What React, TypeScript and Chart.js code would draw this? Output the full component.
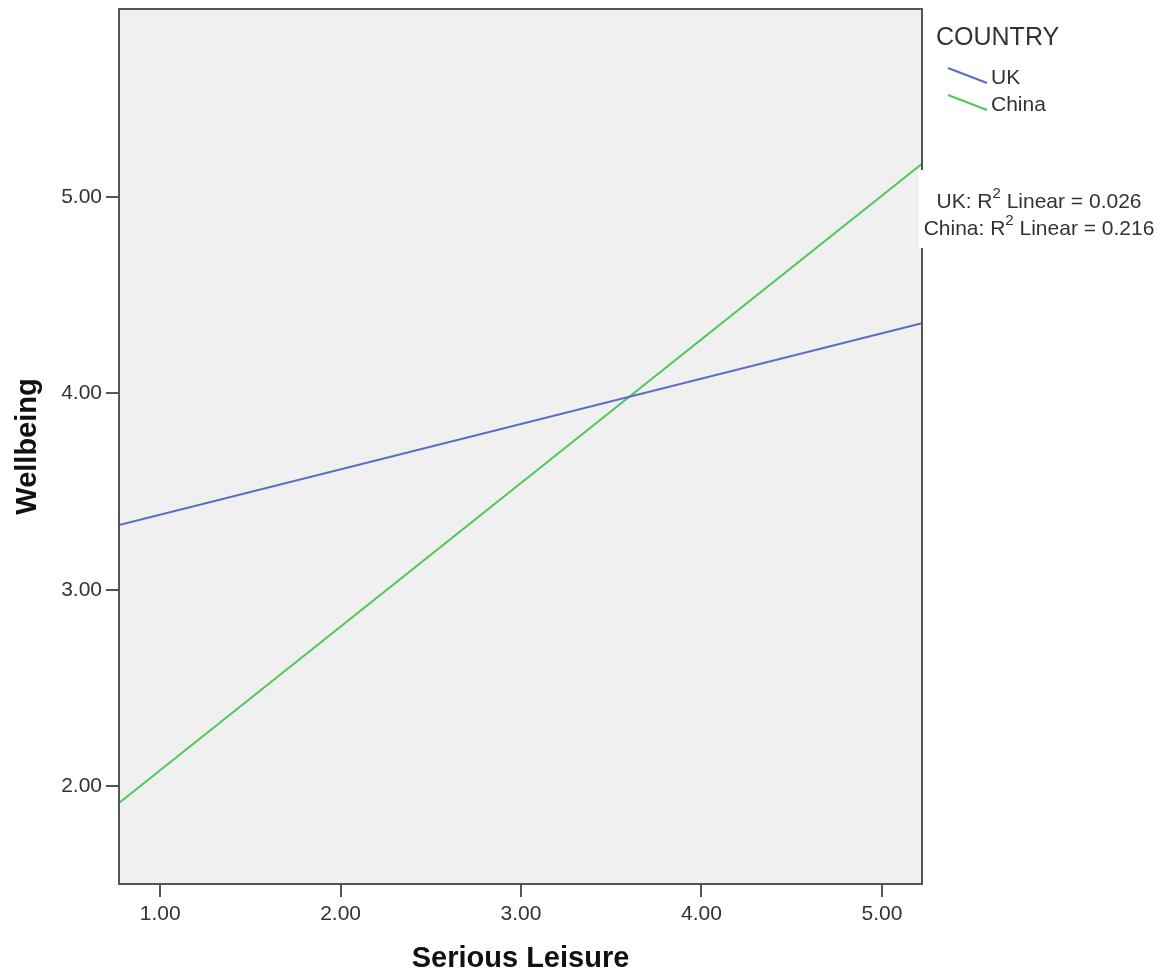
import React, { useEffect, useRef } from "react";
import { Chart, registerables } from "chart.js";

Chart.register(...registerables);

// ---- data ----
const seriesNames = ["UK", "China"];
const seriesColors = ["#5a6cc4", "#4cc65a"];
const xEnds = [0.772, 5.222];
const ukValues = [3.329, 4.356];
const chinaValues = [1.914, 5.168];
const rSquared = ["0.026", "0.216"];
const xTicks = [1, 2, 3, 4, 5];
const yTicks = [2, 3, 4, 5];
const xRange = [0.772, 5.222];
const yRange = [1.502, 5.956];
const legendTitle = "COUNTRY";
const xTitle = "Serious Leisure";
const yTitle = "Wellbeing";

const FONT = "'Liberation Sans', Arial, sans-serif";
const TEXT = "#333333";
const FRAME = "#555555";

const plotPlugin = {
  id: "plotDecor",
  beforeDatasetsDraw(chart: any) {
    const { ctx, chartArea: a } = chart;
    ctx.save();
    ctx.fillStyle = "#f0f0f0";
    ctx.fillRect(a.left, a.top, a.right - a.left, a.bottom - a.top);
    ctx.restore();
  },
  afterDatasetsDraw(chart: any) {
    const { ctx, chartArea: a } = chart;
    ctx.save();
    ctx.strokeStyle = FRAME;
    ctx.lineWidth = 2;
    ctx.strokeRect(a.left, a.top, a.right - a.left, a.bottom - a.top);
    ctx.restore();
  },
  afterDraw(chart: any) {
    const { ctx } = chart;
    ctx.save();
    // legend
    ctx.fillStyle = TEXT;
    ctx.textBaseline = "middle";
    ctx.textAlign = "left";
    ctx.font = `25px ${FONT}`;
    ctx.fillText(legendTitle, 936, 38);
    ctx.font = `21px ${FONT}`;
    seriesNames.forEach((name, i) => {
      const y0 = 68 + i * 27;
      ctx.strokeStyle = seriesColors[i];
      ctx.lineWidth = 2;
      ctx.beginPath();
      ctx.moveTo(948, y0);
      ctx.lineTo(987, y0 + 15);
      ctx.stroke();
      ctx.fillStyle = TEXT;
      ctx.fillText(name, 991, y0 + 10);
    });

    // R² annotation
    ctx.fillStyle = "#ffffff";
    ctx.fillRect(919, 170, 246, 78);
    const cx = 1039;
    seriesNames.forEach((name, i) => {
      const y = 202 + i * 27;
      const p1 = `${name}: R`;
      const sup = "2";
      const p2 = ` Linear = ${rSquared[i]}`;
      ctx.font = `21px ${FONT}`;
      const w1 = ctx.measureText(p1).width;
      const w3 = ctx.measureText(p2).width;
      ctx.font = `15px ${FONT}`;
      const w2 = ctx.measureText(sup).width;
      const total = w1 + w2 + w3;
      let x = cx - total / 2;
      ctx.fillStyle = TEXT;
      ctx.font = `21px ${FONT}`;
      ctx.fillText(p1, x, y);
      x += w1;
      ctx.font = `15px ${FONT}`;
      ctx.fillText(sup, x, y - 8);
      x += w2;
      ctx.font = `21px ${FONT}`;
      ctx.fillText(p2, x, y);
    });
    ctx.restore();
  },
};

export default function App() {
  const ref = useRef<HTMLCanvasElement | null>(null);

  useEffect(() => {
    document.body.style.margin = "0";
    if (!ref.current) return;
    const seriesValues = [ukValues, chinaValues];
    const chart = new Chart(ref.current, {
      type: "scatter",
      data: {
        datasets: seriesNames.map((name, i) => ({
          label: name,
          data: xEnds.map((x, j) => ({ x, y: seriesValues[i][j] })),
          showLine: true,
          borderColor: seriesColors[i],
          backgroundColor: seriesColors[i],
          borderWidth: 2,
          pointRadius: 0,
          pointHoverRadius: 0,
        })),
      },
      options: {
        responsive: false,
        animation: false,
        events: [],
        layout: { padding: { left: 0, top: 9, right: 245, bottom: 0 } },
        plugins: {
          legend: { display: false },
          tooltip: { enabled: false },
        },
        scales: {
          x: {
            type: "linear",
            min: xRange[0],
            max: xRange[1],
            afterBuildTicks: (s: any) => {
              s.ticks = xTicks.map((v) => ({ value: v }));
            },
            afterFit: (s: any) => {
              s.height = 95;
              s.paddingLeft = 0;
              s.paddingRight = 0;
            },
            grid: {
              drawOnChartArea: false,
              drawTicks: true,
              tickLength: 13,
              color: FRAME,
              lineWidth: 2,
            },
            border: { display: false },
            ticks: {
              callback: (v: any) => Number(v).toFixed(2),
              color: TEXT,
              font: { family: FONT, size: 21 },
              padding: 5,
              maxRotation: 0,
            },
            title: {
              display: true,
              text: xTitle,
              color: "#111111",
              font: { family: FONT, size: 29, weight: "bold" },
              padding: { top: 0, bottom: 3 },
            },
          },
          y: {
            type: "linear",
            min: yRange[0],
            max: yRange[1],
            afterBuildTicks: (s: any) => {
              s.ticks = yTicks.map((v) => ({ value: v }));
            },
            afterFit: (s: any) => {
              s.width = 119;
              s.paddingTop = 0;
              s.paddingBottom = 0;
            },
            grid: {
              drawOnChartArea: false,
              drawTicks: true,
              tickLength: 13,
              color: FRAME,
              lineWidth: 2,
            },
            border: { display: false },
            ticks: {
              callback: (v: any) => Number(v).toFixed(2),
              color: TEXT,
              font: { family: FONT, size: 21 },
              padding: 4,
            },
            title: {
              display: true,
              text: yTitle,
              color: "#111111",
              font: { family: FONT, size: 29, weight: "bold" },
              padding: { top: 11, bottom: 0 },
            },
          },
        },
      },
      plugins: [plotPlugin],
    });
    return () => chart.destroy();
  }, []);

  return (
    <div style={{ width: 1167, height: 979, background: "#ffffff" }}>
      <canvas ref={ref} width={1167} height={979} />
    </div>
  );
}
